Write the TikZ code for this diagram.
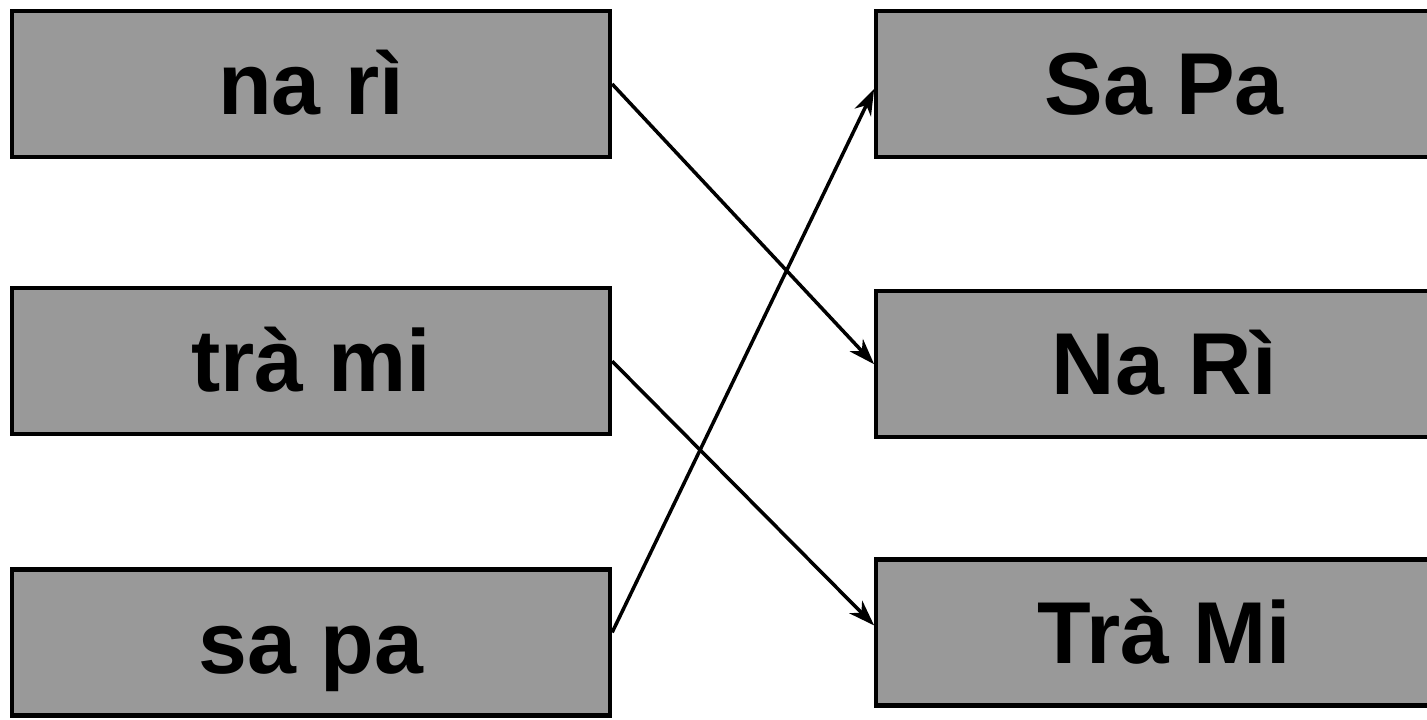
\documentclass[tikz,border=0pt]{standalone}
\usepackage{fontspec}
\setmainfont{Liberation Sans}
\usetikzlibrary{arrows.meta, positioning}

\tikzset{
  word/.style={draw=black, line width=1.2pt, fill=black!40, rectangle,
    minimum height=1.46cm, inner sep=0pt, text height=17.5pt, text depth=0pt,
    font=\fontsize{25}{30}\selectfont\bfseries},
  link/.style={line width=1pt, -{Stealth[length=2.6mm, width=1.8mm, inset=0.8mm]}}
}

\begin{document}
\begin{tikzpicture}

\useasboundingbox (0,0) rectangle (14.27,7.19);

% Left column
\node[word, minimum width=5.98cm] (nari) at (3.11,6.35) {na rì};
\node[word, minimum width=5.98cm, below=1.27cm of nari] (trami) {trà mi};
\node[word, minimum width=5.98cm, below=1.31cm of trami] (sapa) {sa pa};

% Right column
\node[word, minimum width=5.76cm, right=2.62cm of nari] (SaPa) {Sa Pa};
\node[word, minimum width=5.76cm, below=1.30cm of SaPa] (NaRi) {Na Rì};
\node[word, minimum width=5.76cm, below=1.18cm of NaRi] (TraMi) {Trà Mi};

% Arrows
\draw[link] (nari.east) -- (NaRi.west);
\draw[link] (trami.east) -- ([yshift=0.07cm]TraMi.west);
\draw[link] ([yshift=0.1cm]sapa.east) -- ([yshift=-0.05cm]SaPa.west);

\end{tikzpicture}
\end{document}
